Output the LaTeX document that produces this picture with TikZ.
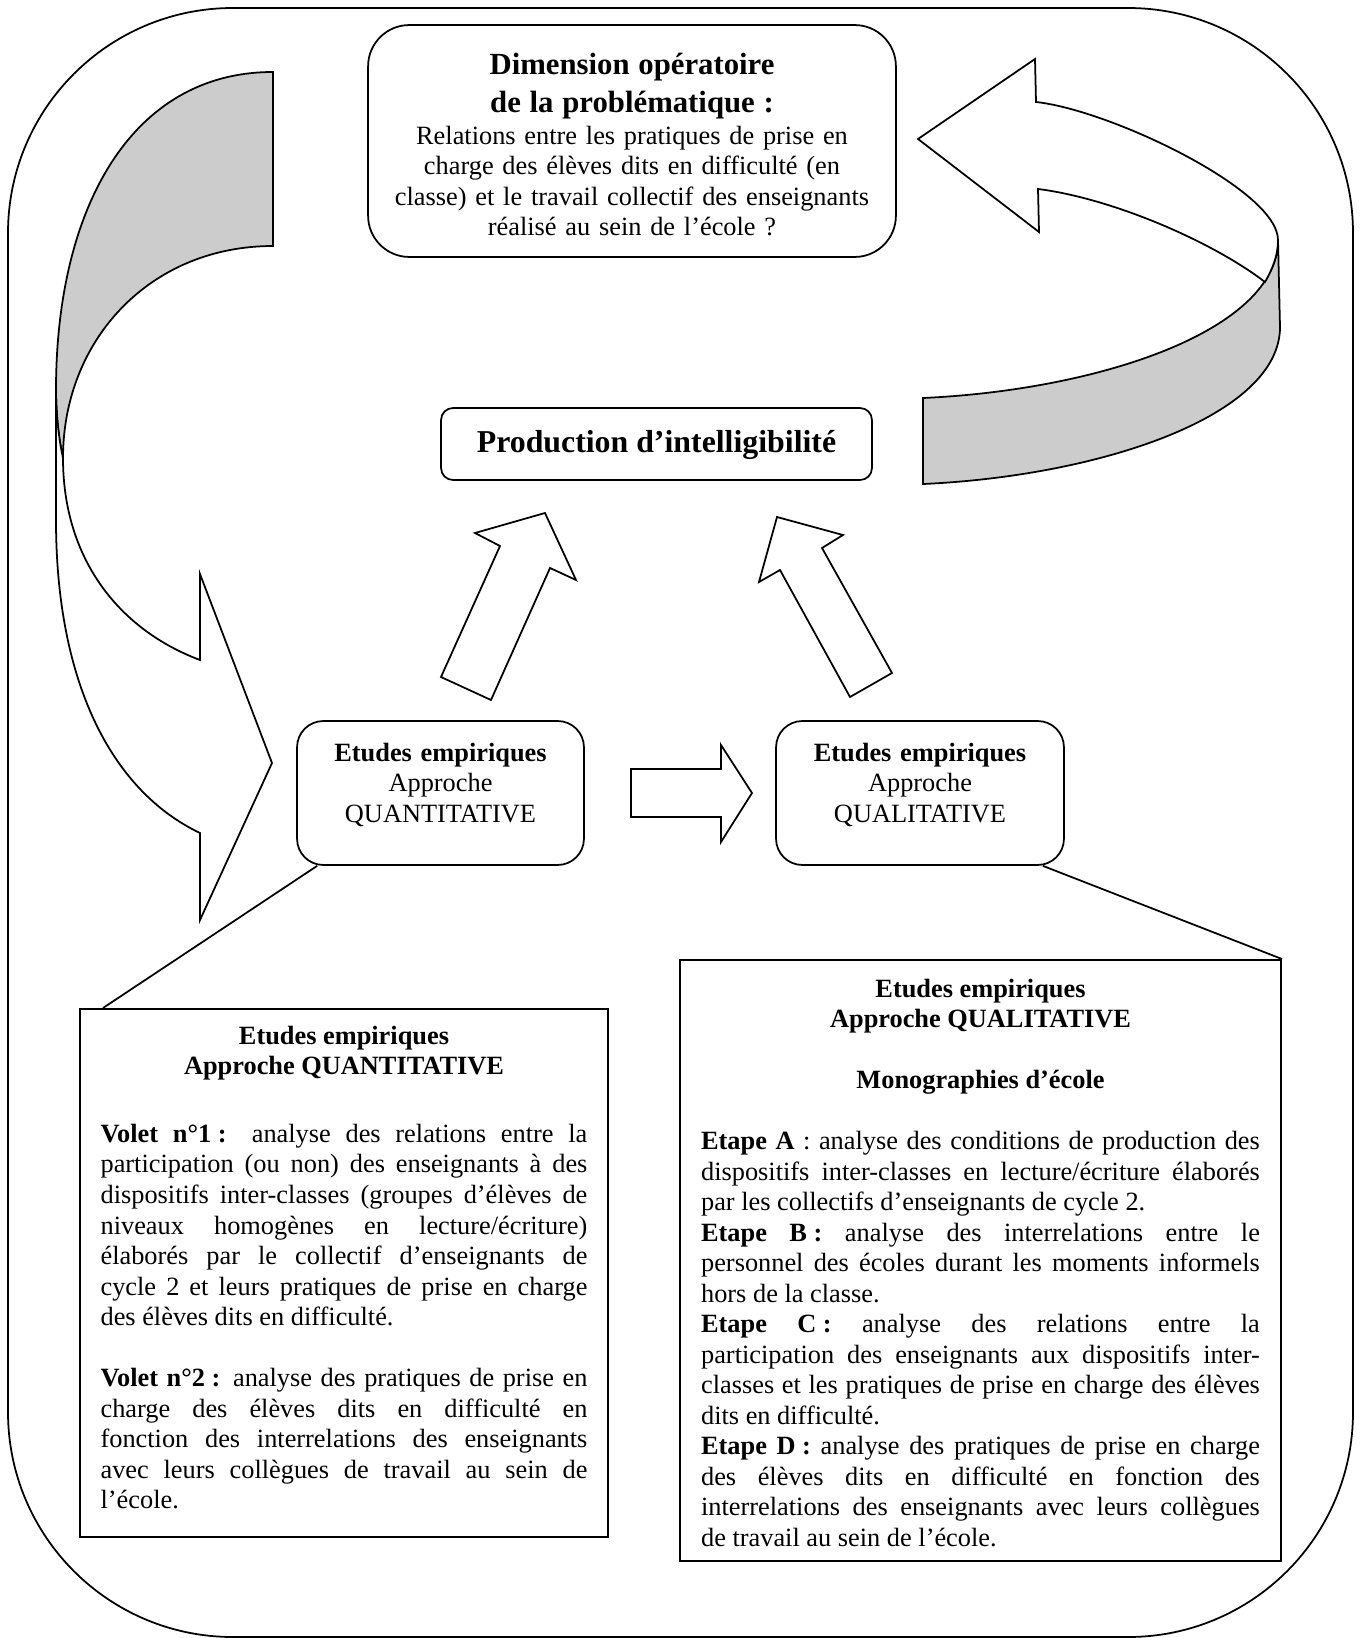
\documentclass[tikz,border=0pt]{standalone}
\usepackage{fontspec}
\setmainfont{Liberation Serif}
\usetikzlibrary{calc}
\hbadness=10000
\pretolerance=10000
\tolerance=10000
\def\justifie{\leftskip=0pt\rightskip=0pt\spaceskip=0pt\xspaceskip=0pt\parfillskip=0pt plus 1fil\relax}
\def\pdeux{\nobreak\hspace{0.25em}:}
\tikzset{
	trait/.style={line width=0.8pt},
	bulle/.style={draw, trait, fill=white, rounded corners=#1, inner sep=0pt},
	encadre/.style={draw, line width=1pt, fill=white, inner sep=0pt, text height=0pt},
	dos/.style={draw, trait, fill=black!20},
	face/.style={draw, trait, fill=white},
	corps/.style={font=\fontsize{12}{13.9}\selectfont},
}

\begin{document}
\begin{tikzpicture}[x=0.016cm, y=-0.016cm]
	%%%%% START %%%%%
	\useasboundingbox (0, 0) rectangle (1362, 1638);
	
	\draw[trait, rounded corners=3.6cm] (8, 8) rectangle (1353, 1637);
	
	\draw[dos] (273, 72) .. controls (130, 72) and (56, 210) .. (56, 390) .. controls (56, 415) and (59, 440) .. (63, 458) .. controls (63, 340) and (150, 246) .. (273, 246) -- cycle;
	\draw[face] (56, 390) -- (56, 520) .. controls (56, 680) and (110, 790) .. (200, 833) -- (200, 920) -- (272, 763) -- (200, 574) -- (200, 660) .. controls (120, 630) and (63, 560) .. (63, 458) .. controls (59, 440) and (56, 415) .. (56, 390) -- cycle;
	
	\draw[dos] (923, 398) -- (923, 484) .. controls (1100, 476) and (1280, 416) .. (1280, 327) -- (1278, 240) .. controls (1278, 330) and (1100, 390) .. (923, 398) -- cycle;
	\draw[face] (1039, 232) -- (1038, 189) .. controls (1110, 198) and (1210, 240) .. (1265, 282) .. controls (1273, 268) and (1278, 255) .. (1278, 240) .. controls (1278, 190) and (1110, 110) .. (1036, 102) -- (1035, 59) -- (918, 139) -- cycle;
	
	\draw[face] (441, 677) -- (500, 546) -- (475, 533) -- (545, 513) -- (576, 580) -- (550, 568) -- (491, 700) -- cycle;
	\draw[face] (850, 697) -- (780, 570) -- (759, 582) -- (777, 517) -- (843, 535) -- (822, 548) -- (892, 673) -- cycle;
	\draw[face] (631, 769) -- (721, 769) -- (721, 745) -- (752, 793) -- (721, 842) -- (721, 817) -- (631, 817) -- cycle;
	
	\node[bulle=0.66cm, corps, text width=8cm, align=center, minimum width=8.448cm, minimum height=3.712cm, text height=0pt, text depth=2.12cm] (probleme) at (632, 141) {%
		{\fontsize{14}{17}\selectfont\bfseries Dimension opératoire\par de la problématique :\par}
		\vspace{0.7pt}
		Relations entre les pratiques de prise en\par
		charge des élèves dits en difficulté (en\par
		classe) et le travail collectif des enseignants\par
		réalisé au sein de l’école ?};
	
	\node[bulle=0.19cm, minimum width=6.896cm, minimum height=1.152cm, text height=0.256cm, text depth=0pt, font=\fontsize{14.5}{17}\selectfont\bfseries] (intellig) at (656.5, 444) {Production d’intelligibilité};
	
	\node[bulle=0.42cm, font=\fontsize{12}{14}\selectfont, text width=4.2cm, align=center, minimum width=4.592cm, minimum height=2.304cm, text height=0pt, text depth=1.024cm] (quanti) at (440.5, 793) {\textbf{Etudes empiriques}\par Approche\par QUANTITATIVE};
	\node[bulle=0.42cm, font=\fontsize{12}{14}\selectfont, text width=4.2cm, align=center, minimum width=4.608cm, minimum height=2.304cm, text height=0pt, text depth=1.024cm] (quali) at (920, 793) {\textbf{Etudes empiriques}\par Approche\par QUALITATIVE};
	
	\node[encadre, corps, text width=7.792cm, minimum width=8.448cm, minimum height=8.448cm, text depth=7.328cm] (quantitxt) at (344, 1273) {\justifie
		{\centering\bfseries Etudes empiriques\par Approche QUANTITATIVE\par}
		\vspace{17pt}
		\textbf{Volet n°1\pdeux} analyse des relations entre la\linebreak
		participation (ou non) des enseignants à des\linebreak
		dispositifs inter-classes (groupes d’élèves de\linebreak
		niveaux homogènes en lecture/écriture)\linebreak
		élaborés par le collectif d’enseignants de\linebreak
		cycle 2 et leurs pratiques de prise en charge\linebreak
		des élèves dits en difficulté.\par
		\vspace{\baselineskip}
		\textbf{Volet n°2\pdeux} analyse des pratiques de prise en\linebreak
		charge des élèves dits en difficulté en\linebreak
		fonction des interrelations des enseignants\linebreak
		avec leurs collègues de travail au sein de\linebreak
		l’école.\par};
	
	\node[encadre, corps, text width=8.944cm, minimum width=9.616cm, minimum height=9.616cm, text depth=8.432cm] (qualitxt) at (980.5, 1260.5) {\justifie
		{\centering\bfseries Etudes empiriques\par Approche QUALITATIVE\par
		\vspace{\baselineskip}
		Monographies d’école\par}
		\vspace{\baselineskip}
		\textbf{Etape A} : analyse des conditions de production des\linebreak
		dispositifs inter-classes en lecture/écriture élaborés\linebreak
		par les collectifs d’enseignants de cycle 2.\par
		\textbf{Etape B\pdeux} analyse des interrelations entre le\linebreak
		personnel des écoles durant les moments informels\linebreak
		hors de la classe.\par
		\textbf{Etape C\pdeux} analyse des relations entre la\linebreak
		participation des enseignants aux dispositifs inter-\linebreak
		classes et les pratiques de prise en charge des élèves\linebreak
		dits en difficulté.\par
		\textbf{Etape D\pdeux} analyse des pratiques de prise en charge\linebreak
		des élèves dits en difficulté en fonction des\linebreak
		interrelations des enseignants avec leurs collègues\linebreak
		de travail au sein de l’école.\par};
	
	\draw[trait] ($(quanti.south west)+(21, 0)$) -- ($(quantitxt.north west)+(24, 0)$);
	\draw[trait] ($(quali.south east)+(-22, 0)$) -- (qualitxt.north east);
	%%%%% END %%%%%
\end{tikzpicture}
\end{document}
